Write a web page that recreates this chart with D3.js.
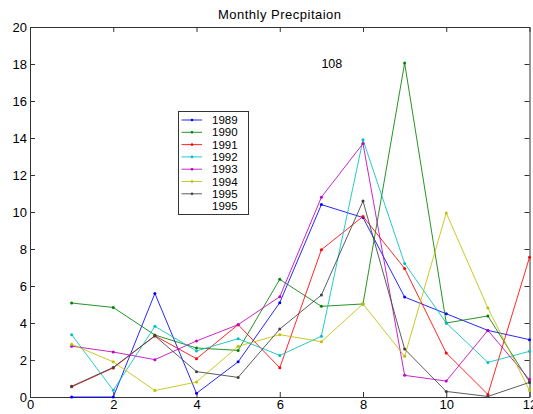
<!DOCTYPE html>
<html>
<head>
<meta charset="utf-8">
<script src="https://cdn.jsdelivr.net/npm/d3@7"></script>
<style>
body { margin: 0; background: #fff; }
text { font-family: "Liberation Sans", Arial, sans-serif; }
</style>
</head>
<body>
<div id="chart"></div>
<script>
var months = [1, 2, 3, 4, 5, 6, 7, 8, 9, 10, 11, 12];
var years = ["1989", "1990", "1991", "1992", "1993", "1994", "1995"];
var colors = ["#0000ff", "#008000", "#ff0000", "#00bfbf", "#bf00bf", "#bfbf00", "#404040"];
var legendLabels = ["1989", "1990", "1991", "1992", "1993", "1994", "1995", "1995"];

var p1989 = [0, 0, 5.6, 0.2, 1.9, 5.1, 10.4, 9.7, 5.4, 4.5, 3.6, 3.1];
var p1990 = [5.08, 4.84, 3.35, 2.65, 2.52, 6.36, 4.9, 5.03, 18.05, 4.0, 4.38, 0.81];
var p1991 = [0.55, 1.57, 3.31, 2.07, 3.91, 1.58, 7.96, 9.76, 6.95, 2.38, 0.14, 7.55];
var p1992 = [3.37, 0.36, 3.82, 2.49, 3.15, 2.25, 3.28, 13.9, 7.22, 4.0, 1.87, 2.47];
var p1993 = [2.75, 2.43, 2.02, 3.03, 3.91, 5.42, 10.8, 13.7, 1.17, 0.86, 3.6, 0.94];
var p1994 = [2.85, 1.9, 0.35, 0.81, 2.74, 3.37, 2.99, 5.03, 2.2, 9.95, 4.81, 0.36];
var p1995 = [0.58, 1.6, 3.3, 1.37, 1.06, 3.67, 5.51, 10.59, 2.59, 0.3, 0.03, 0.79];
var series = [p1989, p1990, p1991, p1992, p1993, p1994, p1995];

var xTicks = [0, 2, 4, 6, 8, 10, 12];
var yTicks = [0, 2, 4, 6, 8, 10, 12, 14, 16, 18, 20];

var width = 533, height = 414;
var margin = {top: 27, right: 3.5, bottom: 17, left: 30};

var svg = d3.select("#chart").append("svg")
    .attr("width", width)
    .attr("height", height);

var x = d3.scaleLinear().domain([0, 12]).range([margin.left, width - margin.right]);
var y = d3.scaleLinear().domain([0, 20]).range([height - margin.bottom, margin.top]);

// title
svg.append("text")
    .attr("x", (x(0) + x(12)) / 2)
    .attr("y", 18.5)
    .attr("text-anchor", "middle")
    .style("font-size", "13px")
    .style("letter-spacing", "0.5px")
    .text("Monthly Precpitaion");

// axes, ticks pointing inward like matlab
var axisColor = "#333";
var bottom = svg.append("g").attr("transform", "translate(0," + y(0) + ")")
    .call(d3.axisBottom(x).tickValues(xTicks).tickSizeInner(-5).tickSizeOuter(0).tickPadding(3));
var top_ = svg.append("g").attr("transform", "translate(0," + y(20) + ")")
    .call(d3.axisTop(x).tickValues(xTicks).tickSizeInner(-5).tickSizeOuter(0).tickFormat(""));
var left = svg.append("g").attr("transform", "translate(" + x(0) + ",0)")
    .call(d3.axisLeft(y).tickValues(yTicks).tickSizeInner(-5).tickSizeOuter(0).tickPadding(3));
var right = svg.append("g").attr("transform", "translate(" + x(12) + ",0)")
    .call(d3.axisRight(y).tickValues(yTicks).tickSizeInner(-5).tickSizeOuter(0).tickFormat(""));

[bottom, top_, left, right].forEach(function(a) {
    a.selectAll("path").attr("stroke", axisColor);
    a.selectAll("line").attr("stroke", axisColor);
    a.selectAll("text").style("font-size", "13px").attr("fill", "#000")
        .style("font-family", "'Liberation Sans', Arial, sans-serif");
});

// lines
var line = d3.line()
    .x(function(d, i) { return x(months[i]); })
    .y(function(d) { return y(d); });

series.forEach(function(s, k) {
    svg.append("path")
        .datum(s)
        .attr("fill", "none")
        .attr("stroke", colors[k])
        .attr("stroke-width", 0.85)
        .attr("d", line);
    svg.selectAll(null)
        .data(s)
        .enter().append("circle")
        .attr("cx", function(d, i) { return x(months[i]); })
        .attr("cy", function(d) { return y(d); })
        .attr("r", 1.5)
        .attr("fill", colors[k]);
});

// the stray text label
svg.append("text")
    .attr("x", x(7))
    .attr("y", y(18))
    .attr("dy", "0.35em")
    .style("font-size", "12.5px")
    .text("108");

// legend
var lg = svg.append("g").attr("transform", "translate(178.5,111.5)");
lg.append("rect")
    .attr("width", 70)
    .attr("height", 103)
    .attr("fill", "#fff")
    .attr("stroke", axisColor);

var item = lg.selectAll("g.item")
    .data(legendLabels)
    .enter().append("g")
    .attr("class", "item")
    .attr("transform", function(d, i) { return "translate(0," + (8.5 + i * 12.3) + ")"; });

item.append("line")
    .attr("x1", 3).attr("x2", 23.5)
    .attr("stroke-width", 0.85)
    .attr("stroke", function(d, i) { return colors[i] || "#fff"; });
item.append("circle")
    .attr("cx", 13.5).attr("r", 1.3)
    .attr("fill", function(d, i) { return colors[i] || "#fff"; });
item.append("text")
    .attr("x", 33.5)
    .attr("dy", "0.35em")
    .style("font-size", "11.5px")
    .text(function(d) { return d; });
</script>
</body>
</html>
